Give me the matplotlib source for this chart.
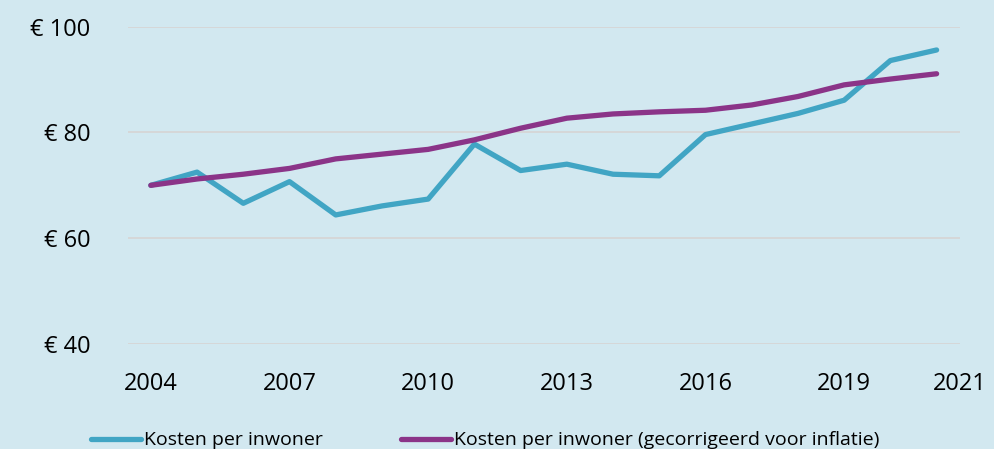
import matplotlib.pyplot as plt

plt.rcParams['font.family'] = ['Open Sans', 'DejaVu Sans']

# jaren en kosten per inwoner (in euro)
jaren = list(range(2004, 2022))
kosten = [70.0, 72.5, 66.6, 70.7, 64.4, 66.1, 67.4, 77.8, 72.8, 74.0,
          72.1, 71.8, 79.6, 81.6, 83.6, 86.1, 93.6, 95.6]
kosten_infl = [70.0, 71.2, 72.1, 73.2, 75.0, 75.9, 76.8, 78.6, 80.8, 82.7,
               83.5, 83.9, 84.2, 85.2, 86.8, 89.0, 90.1, 91.1]
xticks = [2004, 2007, 2010, 2013, 2016, 2019]
yticks = [40, 60, 80, 100]

bg = '#D2E8F0'
fig = plt.figure(figsize=(9.94, 4.49), dpi=100, facecolor=bg)
ax = fig.add_axes([0.1285, 0.234, 0.837, 0.7065], facecolor=bg)

ax.plot(jaren, kosten, color='#41A5C4', lw=3.8, solid_capstyle='round',
        label='Kosten per inwoner', zorder=3)
ax.plot(jaren, kosten_infl, color='#8B3488', lw=3.8, solid_capstyle='round',
        label='Kosten per inwoner (gecorrigeerd voor inflatie)', zorder=3)

ax.set_xlim(jaren[0] - 0.5, jaren[-1] + 0.5)
ax.set_ylim(40, 100)
# laatste label (2021) staat in het origineel op de rechterrand
ax.set_xticks(xticks + [ax.get_xlim()[1]])
ax.set_xticklabels([str(j) for j in xticks] + ['2021'])
ax.set_yticks(yticks)
ax.set_yticklabels(['€ %d' % v for v in yticks])

ax.tick_params(axis='x', length=0, pad=20, labelsize=17, colors='black')
ax.tick_params(axis='y', length=0, pad=27, labelsize=17, colors='black')
ax.grid(axis='y', color='#D6D6D6', lw=1.3)
ax.set_axisbelow(True)
for s in ax.spines.values():
    s.set_visible(False)

fig.legend(loc='lower center', ncol=2, frameon=False, fontsize=14,
           handlelength=2.6, handletextpad=0.15, columnspacing=4.0,
           bbox_to_anchor=(0.488, -0.04))

fig.savefig('out.png', dpi=100, facecolor=bg)
